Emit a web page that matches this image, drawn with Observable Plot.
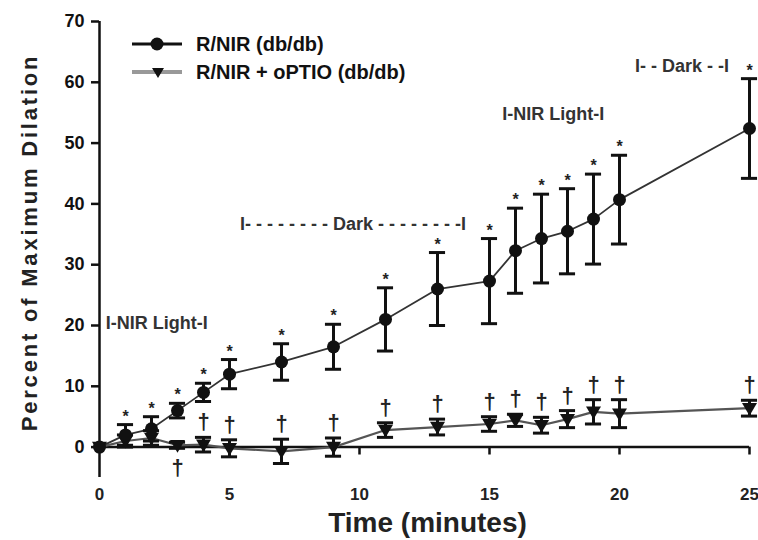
<!DOCTYPE html>
<html>
<head>
<meta charset="utf-8">
<script src="https://cdn.jsdelivr.net/npm/d3@7"></script>
<script src="https://cdn.jsdelivr.net/npm/@observablehq/plot@0.6"></script>
<style>
  body { margin: 0; background: #fff; }
  #wrap { position: relative; width: 758px; height: 540px; font-family: "Liberation Sans", Arial, sans-serif; }
  #legend { position: absolute; left: 128px; top: 30px; font-weight: bold; font-size: 20px; color: #111; }
  .lg-row { display: flex; align-items: center; height: 28px; }
  .lg-row svg { margin-right: 12px; }
</style>
</head>
<body>
<div id="wrap">
  <div id="chart"></div>
  <div id="legend"></div>
</div>
<script>
// ---- data ----
const times      = [0, 1, 2, 3, 4, 5, 7, 9, 11, 13, 15, 16, 17, 18, 19, 20, 25];
const rnirMean   = [0, 2.0, 3.0, 6.0, 9.0, 12.0, 14.0, 16.5, 21.0, 26.0, 27.3, 32.3, 34.3, 35.5, 37.5, 40.7, 52.4];
const rnirSem    = [0, 1.7, 2.0, 1.2, 1.5, 2.4, 3.0, 3.7, 5.2, 6.0, 7.0, 7.0, 7.3, 7.0, 7.4, 7.3, 8.2];
const optioMean  = [0, 1.0, 1.5, 0.3, 0.4, -0.2, -0.7, 0.0, 2.8, 3.3, 3.8, 4.4, 3.6, 4.6, 5.8, 5.5, 6.4];
const optioSem   = [0, 1.0, 1.2, 0.5, 1.2, 1.4, 2.0, 1.5, 1.2, 1.3, 1.2, 1.0, 1.3, 1.4, 2.0, 2.3, 1.3];
const seriesNames = ["R/NIR (db/db)", "R/NIR + oPTIO (db/db)"];
const asteriskTimes = [1, 2, 3, 4, 5, 7, 9, 11, 13, 15, 16, 17, 18, 19, 20, 25];
const daggerTimes   = [3, 4, 5, 7, 9, 11, 13, 15, 16, 17, 18, 19, 20, 25];
const daggerBelow   = [3];
const annotationLabels = ["I-NIR Light-I", "I- - - - - - - - Dark - - - - - - - -I", "I-NIR Light-I", "I- - Dark - -I"];
const annotationTimes  = [2.2, 9.75, 17.45, 22.4];
const annotationLevels = [20.3, 36.6, 54.8, 62.7];
const xTicks = [0, 5, 10, 15, 20, 25];
const yTicks = [0, 10, 20, 30, 40, 50, 60, 70];
const xDomain = [0, 25];
const yDomain = [-5, 70];
const xLabel = "Time (minutes)";
const yLabel = "Percent of Maximum Dilation";

// ---- build tables ----
const rnir = times.map((t, i) => ({t, m: rnirMean[i], lo: rnirMean[i] - rnirSem[i], hi: rnirMean[i] + rnirSem[i]}));
const optio = times.map((t, i) => ({t, m: optioMean[i], lo: optioMean[i] - optioSem[i], hi: optioMean[i] + optioSem[i]}));
const withErr = (arr) => arr.filter(d => d.hi > d.lo);
const asterisks = rnir.filter(d => asteriskTimes.includes(d.t));
const daggersUp = optio.filter(d => daggerTimes.includes(d.t) && !daggerBelow.includes(d.t));
const daggersDown = optio.filter(d => daggerBelow.includes(d.t));
const annotations = annotationLabels.map((label, i) => ({label, t: annotationTimes[i], v: annotationLevels[i]}));

const triangleDown = {
  draw(context, size) {
    const r = Math.sqrt(size / Math.PI) * 1.25;
    context.moveTo(-r, -r * 0.7);
    context.lineTo(r, -r * 0.7);
    context.lineTo(0, r * 1.0);
    context.closePath();
  }
};

const capHalf = 0.31;
const errMarks = (arr) => [
  Plot.ruleX(withErr(arr), {x: "t", y1: "lo", y2: "hi", stroke: "#111", strokeWidth: 3}),
  Plot.ruleY(withErr(arr), {y: "hi", x1: d => d.t - capHalf, x2: d => d.t + capHalf, stroke: "#111", strokeWidth: 3}),
  Plot.ruleY(withErr(arr), {y: "lo", x1: d => d.t - capHalf, x2: d => d.t + capHalf, stroke: "#111", strokeWidth: 3})
];

const chart = Plot.plot({
  width: 758,
  height: 540,
  marginLeft: 99,
  marginRight: 9,
  marginTop: 21,
  marginBottom: 63,
  style: {fontFamily: "'Liberation Sans', Arial, sans-serif", fontWeight: "bold", fontSize: "18px", color: "#111", background: "#fff"},
  x: {domain: xDomain, axis: null},
  y: {domain: yDomain, axis: null},
  marks: [
    // y axis
    Plot.ruleX([xDomain[0]], {y1: yDomain[0], y2: yDomain[1], stroke: "#111", strokeWidth: 2.5}),
    Plot.axisY(yTicks, {anchor: "left", tickSize: 8, tickPadding: 7, strokeWidth: 2.5, fontSize: 18, fontWeight: "bold", label: null, stroke: "#111"}),
    // x axis at y = 0
    Plot.ruleY([0], {x1: xDomain[0], x2: xDomain[1], stroke: "#111", strokeWidth: 2.5}),
    Plot.ruleX(xTicks.filter(d => d > xDomain[0]), {x: d => d, y1: 0, y2: -1.3, stroke: "#111", strokeWidth: 2.5}),
    Plot.text(xTicks, {x: d => d, y: 0, dy: 47, text: d => String(d), fontSize: 17, fontWeight: "bold", fill: "#222"}),
    // series lines
    Plot.line(optio, {x: "t", y: "m", stroke: "#555", strokeWidth: 2.2}),
    Plot.line(rnir, {x: "t", y: "m", stroke: "#333", strokeWidth: 1.8}),
    // error bars
    ...errMarks(optio),
    ...errMarks(rnir),
    // markers
    Plot.dot(optio, {x: "t", y: "m", symbol: triangleDown, r: 6, fill: "#111", stroke: "none"}),
    Plot.dot(rnir, {x: "t", y: "m", r: 6.5, fill: "#111", stroke: "none"}),
    // significance marks
    Plot.text(asterisks, {x: "t", y: "hi", text: () => "*", dy: -8, fontSize: 16, fontWeight: "bold", fill: "#222"}),
    Plot.text(daggersUp, {x: "t", y: "hi", text: () => "†", dy: -15, fontSize: 22, fontWeight: "bold", fill: "#222"}),
    Plot.text(daggersDown, {x: "t", y: "lo", text: () => "†", dy: 20, fontSize: 22, fontWeight: "bold", fill: "#222"}),
    // light/dark annotations
    Plot.text(annotations, {x: "t", y: "v", text: "label", fontSize: 18, fontWeight: "bold", fill: "#333"}),
    // axis titles
    Plot.text([yLabel], {frameAnchor: "left", textAnchor: "middle", lineAnchor: "middle", rotate: -90, dx: -70, dy: -7, fontSize: 22, fontWeight: "bold", fill: "#222"}),
    Plot.text([xLabel], {frameAnchor: "bottom", lineAnchor: "middle", dy: 46, dx: 3, fontSize: 28, fontWeight: "bold", fill: "#222"})
  ]
});
document.getElementById("chart").appendChild(chart);
d3.select(chart).selectAll("text")
  .filter(function() { return this.textContent === yLabel; })
  .attr("letter-spacing", "2.8px")
  .style("letter-spacing", "2.8px");

// legend overlay
const legend = d3.select("#legend");
const rows = [
  {name: seriesNames[0], line: "#111", lw: 3, marker: "circle"},
  {name: seriesNames[1], line: "#999", lw: 4, marker: "tri"}
];
rows.forEach(r => {
  const row = legend.append("div").attr("class", "lg-row");
  const s = row.append("svg").attr("width", 56).attr("height", 20);
  s.append("line").attr("x1", 4).attr("x2", 54).attr("y1", 10).attr("y2", 10).attr("stroke", r.line).attr("stroke-width", r.lw);
  if (r.marker === "circle") s.append("circle").attr("cx", 29).attr("cy", 10).attr("r", 6.5).attr("fill", "#111");
  else s.append("path").attr("d", "M24,6 L36,6 L30,16 Z").attr("fill", "#111");
  row.append("span").text(r.name);
});
</script>
</body>
</html>
